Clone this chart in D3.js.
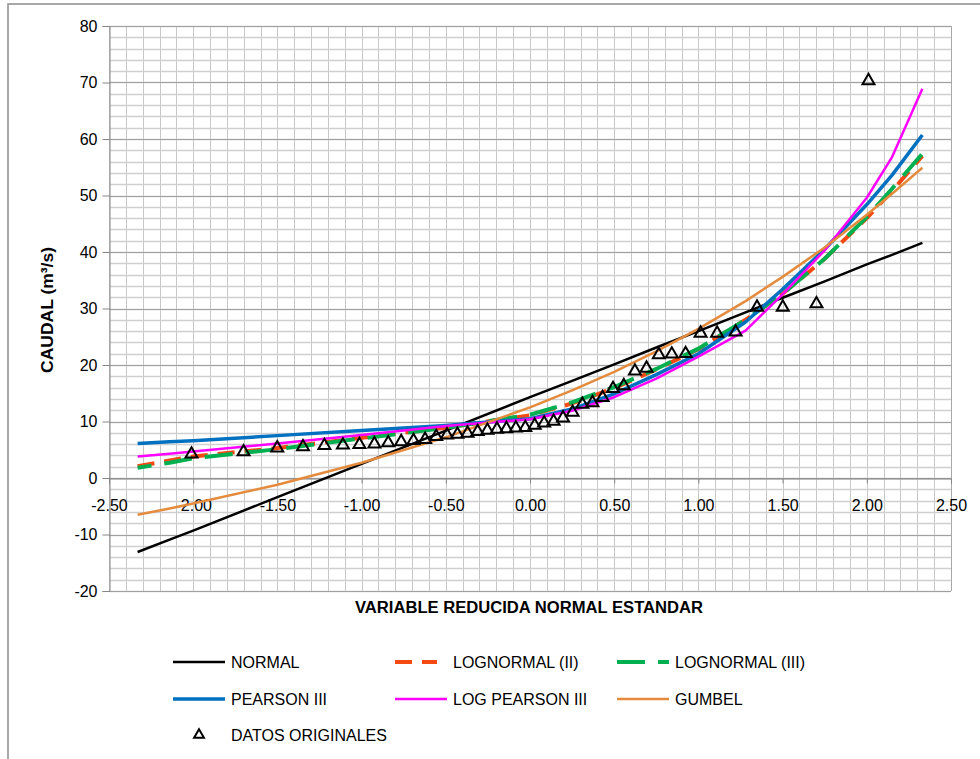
<!DOCTYPE html>
<html><head><meta charset="utf-8">
<script src="https://cdn.jsdelivr.net/npm/d3@7"></script>
<style>body{margin:0;background:#fff;} svg{display:block;font-family:"Liberation Sans",Arial,sans-serif;}</style>
</head><body><svg id="c" width="980" height="759"></svg>
<script>
// ---- DATA ----
const dataZ = [-2.010,-1.701,-1.501,-1.348,-1.221,-1.111,-1.013,-0.924,-0.842,-0.765,-0.692,-0.623,-0.557,-0.493,-0.431,-0.371,-0.311,-0.253,-0.196,-0.140,-0.084,-0.028,
  0.028,0.084,0.140,0.196,0.253,0.311,0.371,0.431,0.493,0.557,0.623,0.692,0.765,0.842,0.924,1.013,1.111,1.221,1.348,1.501,1.701,2.010];
const dataQ = [4.4,4.8,5.5,5.7,5.9,6.0,6.1,6.2,6.4,6.6,6.8,7.0,7.5,7.8,7.9,8.1,8.4,8.6,8.8,8.9,9.0,9.1,
  9.5,9.9,10.2,10.8,11.8,13.2,13.5,14.4,16.0,16.5,19.1,19.6,22.0,22.1,22.2,25.8,25.8,26.0,30.4,30.4,31.0,70.5];

const curveZ      = [-2.33,-2.14,-2.0,-1.5,-1.0,-0.5,0,0.25,0.5,0.75,1.0,1.28,1.5,1.75,2.0,2.15,2.33];
const normalQ     = [-13.1,-10.9,-9.3,-3.4,2.5,8.4,14.3,17.2,20.1,23.1,26.0,29.3,31.9,34.8,37.8,39.5,41.6];
const lognormal2Q = [2.1,3.1,3.8,5.3,7.1,8.9,11.1,13.2,15.9,19.2,22.8,28.0,32.6,38.8,46.0,50.8,57.0];
const lognormal3Q = [1.8,2.7,3.5,5.1,7.0,8.9,11.2,13.4,16.1,19.3,22.9,28.0,32.6,38.8,46.2,51.2,57.4];
const pearson3Q   = [6.1,6.4,6.6,7.5,8.4,9.3,10.5,12.2,14.9,18.3,22.0,27.6,33.4,40.5,48.4,53.6,60.7];
const logPearson3Q= [3.8,4.3,4.7,6.1,7.6,9.2,10.4,11.9,14.3,17.6,21.5,26.1,32.5,40.3,49.6,56.8,68.9];
const gumbelQ     = [-6.5,-5.4,-4.5,-1.2,2.7,7.2,12.5,15.5,18.8,22.4,26.4,31.3,35.6,40.8,46.6,50.3,54.9];

const xTicks = [-2.5,-2.0,-1.5,-1.0,-0.5,0,0.5,1.0,1.5,2.0,2.5];
const yTicks = [-20,-10,0,10,20,30,40,50,60,70,80];

const seriesNames = ["NORMAL","LOGNORMAL (II)","LOGNORMAL (III)","PEARSON III","LOG PEARSON III","GUMBEL"];
const seriesValues = [normalQ,lognormal2Q,lognormal3Q,pearson3Q,logPearson3Q,gumbelQ];

// ---- STYLES ----
const styles = [
  {color:"#000000", width:2.5, dash:null},
  {color:"#F24A12", width:4,   dash:"17,10"},
  {color:"#00B050", width:4,   dash:"28,13"},
  {color:"#0070C0", width:3.5, dash:null},
  {color:"#FF00FF", width:2.5, dash:null},
  {color:"#E48B3E", width:2.5, dash:null}
];

const svg = d3.select("#c");
const L=109, R=951, T=26, B=591;
const x = d3.scaleLinear().domain([-2.5,2.5]).range([L,R]);
const y = d3.scaleLinear().domain([-20,80]).range([B,T]);
const hy = f => (d => f(d).replace("\u2212","-"));

// outer frame
svg.append("path").attr("d",`M8,759 L8,4 L980,4`).attr("fill","none").attr("stroke","#8c8c8c").attr("stroke-width",1.5);

// gridlines
const g = svg.append("g");
const vMinor = d3.range(0,51).map(i=>-2.5+i*0.1);
g.selectAll(".vg").data(vMinor).join("line")
  .attr("x1",d=>Math.round(x(d))+0.5).attr("x2",d=>Math.round(x(d))+0.5)
  .attr("y1",T).attr("y2",B).attr("stroke","#c8c8c8").attr("stroke-width",1);
const hMinor = d3.range(0,51).map(i=>-20+i*2);
g.selectAll(".hg").data(hMinor).join("line")
  .attr("y1",d=>Math.round(y(d))+0.5).attr("y2",d=>Math.round(y(d))+0.5)
  .attr("x1",L).attr("x2",R).attr("stroke","#d0d0d0").attr("stroke-width",1.3);
g.selectAll(".hM").data(yTicks).join("line")
  .attr("y1",d=>Math.round(y(d))+0.5).attr("y2",d=>Math.round(y(d))+0.5)
  .attr("x1",L).attr("x2",R).attr("stroke","#a0a0a0").attr("stroke-width",1);
g.append("line").attr("x1",R+0.5).attr("x2",R+0.5).attr("y1",T).attr("y2",B).attr("stroke","#a8a8a8");

// y axis
const yAxis = d3.axisLeft(y).tickValues(yTicks).tickSize(7).tickPadding(5).tickFormat(hy(d3.format("d")));
const ya = svg.append("g").attr("transform",`translate(${L+0.5},0)`).call(yAxis);
ya.select(".domain").attr("stroke","#868686");
ya.selectAll(".tick line").attr("stroke","#868686");
ya.selectAll("text").attr("font-size",16).attr("fill","#000").attr("font-family","'Liberation Sans',Arial,sans-serif");

// x axis at y=0
const xAxis = d3.axisBottom(x).tickValues(xTicks).tickSize(5).tickPadding(16).tickFormat(hy(d3.format(".2f")));
const xa = svg.append("g").attr("transform",`translate(0,${Math.round(y(0))+0.5})`).call(xAxis);
xa.select(".domain").attr("stroke","#868686");
xa.selectAll(".tick line").attr("stroke","#868686");
xa.selectAll("text").attr("font-size",16).attr("fill","#000").attr("font-family","'Liberation Sans',Arial,sans-serif");

// axis titles
svg.append("text").attr("x",529).attr("y",613).attr("text-anchor","middle")
  .attr("font-weight","bold").attr("font-size",16).attr("textLength",348).attr("lengthAdjust","spacingAndGlyphs")
  .text("VARIABLE REDUCIDA NORMAL ESTANDAR");
svg.append("text").attr("transform","translate(53,310) rotate(-90)").attr("text-anchor","middle")
  .attr("font-weight","bold").attr("font-size",17).attr("textLength",126).attr("lengthAdjust","spacingAndGlyphs")
  .text("CAUDAL (m³/s)");

// curves
const line = d3.line().x((d,i)=>x(curveZ[i])).y(d=>y(d));
const cg = svg.append("g");
seriesValues.forEach((vals,k)=>{
  const s = styles[k];
  const p = cg.append("path").datum(vals).attr("d",line)
    .attr("fill","none").attr("stroke",s.color).attr("stroke-width",s.width)
    .attr("stroke-linejoin","round");
  if(s.dash){ p.attr("stroke-dasharray",s.dash); if(k===2) p.attr("stroke-dashoffset",14); }
});

// data triangles
const tri = d3.symbol().type(d3.symbolTriangle).size(62);
svg.append("g").selectAll("path").data(dataQ).join("path")
  .attr("d",tri).attr("transform",(d,i)=>`translate(${x(dataZ[i])},${y(d)+1})`)
  .attr("fill","none").attr("stroke","#000").attr("stroke-width",2);

// legend
const legCols=[173,395,617], legRows=[662,699];
const lg = svg.append("g").attr("font-size",16);
seriesNames.forEach((nm,k)=>{
  const col=k%3, row=Math.floor(k/3);
  const x0=legCols[col], yy=legRows[row];
  const s=styles[k];
  const len = (k===1)?42:52;
  const ln = lg.append("line").attr("x1",x0).attr("x2",x0+len).attr("y1",yy).attr("y2",yy)
    .attr("stroke",s.color).attr("stroke-width",s.width);
  if(s.dash) ln.attr("stroke-dasharray",s.dash);
  lg.append("text").attr("x",x0+58).attr("y",yy+6).text(nm);
});
lg.append("path").attr("d",d3.symbol().type(d3.symbolTriangle).size(42))
  .attr("transform","translate(199,735)").attr("fill","none").attr("stroke","#000").attr("stroke-width",2);
lg.append("text").attr("x",231).attr("y",741).text("DATOS ORIGINALES");
</script></body></html>
